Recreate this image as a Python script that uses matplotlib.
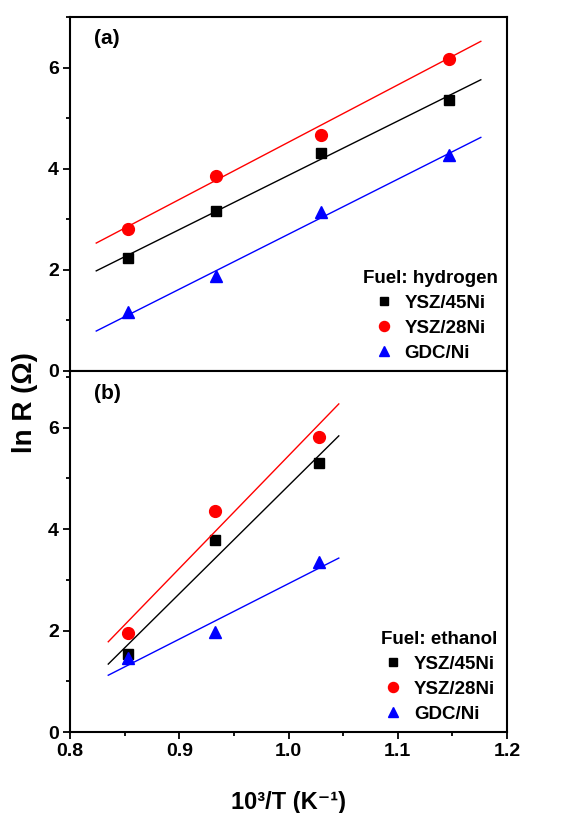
import matplotlib
matplotlib.use("Agg")
import matplotlib.pyplot as plt
from matplotlib.ticker import MultipleLocator

plt.rcParams['font.family'] = ['Liberation Sans', 'DejaVu Sans']
plt.rcParams['font.weight'] = 'bold'

# ---- data: panel (a) hydrogen ----
x_h = [0.853, 0.934, 1.030, 1.147]
ysz45_h = [2.23, 3.16, 4.32, 5.36]
ysz28_h = [2.80, 3.85, 4.67, 6.17]
gdc_h = [1.16, 1.87, 3.15, 4.28]
fit_x_h = [0.824, 1.176]
fit_ysz45_h = [1.98, 5.76]
fit_ysz28_h = [2.53, 6.52]
fit_gdc_h = [0.79, 4.62]

# ---- data: panel (b) ethanol ----
x_e = [0.853, 0.933, 1.028]
ysz45_e = [1.54, 3.78, 5.30]
ysz28_e = [1.96, 4.35, 5.81]
gdc_e = [1.46, 1.98, 3.36]
fit_x_e = [0.835, 1.046]
fit_ysz45_e = [1.34, 5.84]
fit_ysz28_e = [1.78, 6.47]
fit_gdc_e = [1.12, 3.43]

labels = ['YSZ/45Ni', 'YSZ/28Ni', 'GDC/Ni']
colors = ['black', 'red', 'blue']
markers = ['s', 'o', '^']
msizes = [7.5, 8.5, 8.5]

fig = plt.figure(figsize=(5.62, 8.13), dpi=100)
left, width = 0.1246, 0.7776
ax1 = fig.add_axes([left, 0.5437, width, 0.4353])
ax2 = fig.add_axes([left, 0.0996, width, 0.4441])

def draw(ax, x, series, fx, fits, title, tag, ymax):
    for s, f, lab, c, m, ms in zip(series, fits, labels, colors, markers, msizes):
        ax.plot(fx, f, '-', color=c, lw=1.0)
        ax.plot(x, s, linestyle='none', marker=m, color=c, ms=ms, label=lab)
    ax.set_xlim(0.8, 1.2)
    ax.set_ylim(0, ymax)
    ax.xaxis.set_major_locator(MultipleLocator(0.1))
    ax.xaxis.set_minor_locator(MultipleLocator(0.05))
    ax.yaxis.set_major_locator(MultipleLocator(2))
    ax.yaxis.set_minor_locator(MultipleLocator(1))
    ax.tick_params(which='major', direction='out', length=5, width=1.3,
                   labelsize=14, pad=3)
    ax.tick_params(which='minor', direction='out', length=3, width=1.3)
    for sp in ax.spines.values():
        sp.set_linewidth(1.5)
    for t in ax.get_yticklabels() + ax.get_xticklabels():
        t.set_fontweight('bold')
    ax.text(0.055, 0.965, tag, transform=ax.transAxes, ha='left', va='top',
            fontsize=15, fontweight='bold')
    leg = ax.legend(loc='lower right', frameon=False, title=title,
                    prop={'size': 13.5, 'weight': 'bold'},
                    title_fontproperties={'size': 13.5, 'weight': 'bold'},
                    handlelength=1.0, handletextpad=0.6, labelspacing=0.42,
                    borderaxespad=0.1, markerscale=0.85)
    return leg

draw(ax1, x_h, [ysz45_h, ysz28_h, gdc_h], fit_x_h,
     [fit_ysz45_h, fit_ysz28_h, fit_gdc_h], 'Fuel: hydrogen', '(a)', 7)
draw(ax2, x_e, [ysz45_e, ysz28_e, gdc_e], fit_x_e,
     [fit_ysz45_e, fit_ysz28_e, fit_gdc_e], 'Fuel: ethanol', '(b)', 7.12)

ax1.tick_params(axis='x', labelbottom=False)
ax1.set_xticklabels([])
for t in ax2.get_xticklabels():
    t.set_fontweight('bold')

ax2.set_xlabel('10³/T (K⁻¹)', fontsize=17, fontweight='bold', labelpad=22)
fig.text(0.045, 0.505, 'ln R (Ω)', rotation=90, ha='center', va='center',
         fontsize=20, fontweight='bold')

fig.savefig('out.png', dpi=100)
